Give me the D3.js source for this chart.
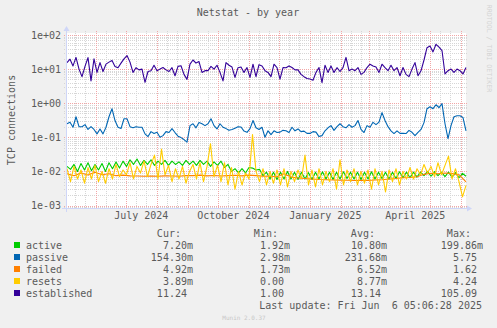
<!DOCTYPE html>
<html><head><meta charset="utf-8">
<script src="https://cdn.jsdelivr.net/npm/d3@7/dist/d3.min.js"></script>
<style>
html,body{margin:0;padding:0;background:#F0F0F0;}
svg{display:block;}
text{font-family:"DejaVu Sans Mono",monospace;}
</style>
</head><body>
<svg id="chart" width="497" height="328"></svg>
<script>
// ---------------- data ----------------
const chartTitle = "Netstat - by year";
const yAxisTitle = "TCP connections";
const watermark = "RRDTOOL / TOBI OETIKER";
const footer = "Munin 2.0.37";
const lastUpdate = "Last update: Fri Jun  6 05:06:28 2025";
const endTimeUTC = [2025, 5, 6, 5, 6, 28];
const spanDays = 400;

const seriesNames  = ["active", "passive", "failed", "resets", "established"];
const seriesColors = ["#00CC00", "#0066B3", "#FF8000", "#FFCC00", "#330099"];
const curValues = ["7.20m", "154.30m", "4.92m", "3.89m", "11.24"];
const minValues = ["1.92m", "2.98m", "1.73m", "0.00", "1.00"];
const avgValues = ["10.80m", "231.68m", "6.52m", "8.77m", "13.14"];
const maxValues = ["199.86m", "5.75", "1.62", "4.24", "105.09"];

const yTickValues = [1e-3, 1e-2, 1e-1, 1e0, 1e1, 1e2];
const yTickLabels = ["1e-03", "1e-02", "1e-01", "1e+00", "1e+01", "1e+02"];
const xTickLabels = ["July 2024", "October 2024", "January 2025", "April 2025"];
const yDomain = [8.45e-4, 114.5];

// sample spacing in days (first sample at day 1 of the 400-day window)
const activeStep = 3.5, passiveStep = 3, failedStep = 7, resetsStep = 3.5, establishedStep = 3;

const activeValues = [
  0.014,0.0115,0.016,0.010,0.017,0.011,0.018,0.0105,0.016,0.011,0.017,0.010,0.018,0.012,0.019,0.0125,0.020,
  0.014,0.022,0.016,0.023,0.015,0.021,0.016,0.022,0.015,0.020,0.016,0.021,0.015,0.020,0.016,0.019,0.015,0.021,0.016,
  0.020,0.015,0.021,0.016,0.020,0.014,0.019,0.015,0.020,0.013,0.016,0.010,0.012,0.009,0.012,0.009,0.013,
  0.0125,0.011,0.0115,0.0075,0.0095,0.006,0.0095,0.0058,0.0095,0.006,0.010,0.006,0.0095,0.0058,0.0095,0.006,
  0.0092,0.0058,0.0095,0.006,0.0098,0.006,0.0095,0.0058,0.0095,0.006,0.0098,0.0062,0.0095,0.006,0.0095,0.0058,
  0.0095,0.006,0.0098,0.006,0.0095,0.0062,0.0095,0.006,0.0095,0.0062,0.0098,0.0065,0.0095,0.0065,0.0095,0.0068,
  0.0095,0.0075,0.010,0.0072,0.0098,0.0075,0.0095,0.007,0.0095,0.0068,0.0092,0.0065,0.0088,0.0072
];
const passiveValues = [
  0.25,0.275,0.197,0.40,0.205,0.205,0.235,0.17,0.205,0.17,
  0.126,0.176,0.126,0.197,0.40,0.69,0.31,0.197,0.18,0.35,
  0.35,0.205,0.19,0.205,0.197,0.197,0.126,0.105,0.147,0.129,
  0.14,0.10,0.112,0.147,0.138,0.18,0.138,0.108,0.098,0.086,
  0.072,0.22,0.25,0.19,0.27,0.25,0.22,0.25,0.35,0.22,
  0.176,0.25,0.197,0.18,0.16,0.17,0.185,0.205,0.20,0.152,
  0.14,0.18,0.31,0.19,0.17,0.197,0.10,0.155,0.12,0.155,
  0.138,0.142,0.16,0.155,0.138,0.197,0.155,0.176,0.147,0.152,
  0.13,0.13,0.147,0.142,0.105,0.112,0.155,0.19,0.22,0.16,
  0.205,0.25,0.205,0.19,0.235,0.197,0.22,0.31,0.17,0.138,
  0.22,0.197,0.275,0.235,0.28,0.53,0.31,0.205,0.155,0.129,
  0.155,0.13,0.13,0.129,0.16,0.14,0.112,0.14,0.17,0.27,
  0.69,0.79,0.69,0.90,0.74,0.97,0.25,0.092,0.22,0.40,
  0.43,0.43,0.38,0.155
];
const failedValues = [
  0.0085,0.0075,0.009,0.0078,0.0095,0.008,0.0085,0.0075,0.0078,
  0.0074,0.0073,0.0072,0.0073,0.0072,0.0074,0.0073,0.0072,0.0075,
  0.0075,0.0078,0.0074,0.0076,0.0073,0.0075,0.0077,0.0074,0.0078,
  0.0075,0.0072,0.0072,0.0070,0.0085,0.0068,0.0064,0.0062,0.006,0.0058,0.0057,0.0056,
  0.0055,0.0055,0.0054,0.0055,0.0054,0.0056,0.0057,0.006,0.0062,0.0065,0.0066,0.007,
  0.0082,0.0088,0.0085,0.009,0.0086,0.008,0.0049
];
const resetsValues = [
  0.012,0.005,0.014,0.006,0.011,0.0045,0.013,0.006,0.015,0.005,0.010,0.0045,0.012,0.006,0.016,0.007,0.011,
  0.008,0.018,0.006,0.014,0.009,0.020,0.007,0.016,0.030,0.006,0.045,0.008,0.015,0.005,0.012,0.006,0.014,0.0045,0.010,
  0.016,0.006,0.018,0.005,0.014,0.065,0.007,0.015,0.005,0.018,0.004,0.013,0.003,0.010,0.004,0.009,0.006,
  0.12,0.010,0.005,0.012,0.004,0.010,0.0045,0.011,0.004,0.012,0.0035,0.010,0.005,0.011,0.006,0.030,
  0.004,0.011,0.0035,0.012,0.004,0.010,0.005,0.012,0.003,0.022,0.004,0.011,0.005,0.012,0.004,0.010,
  0.0045,0.011,0.003,0.012,0.004,0.010,0.0025,0.011,0.005,0.012,0.004,0.010,0.006,0.013,0.006,0.012,
  0.008,0.016,0.009,0.014,0.007,0.018,0.008,0.015,0.028,0.006,0.012,0.005,0.0018,0.0039
];
const establishedValues = [
  15.5,19.5,12.4,22,10,6,12,21.7,4.5,20,
  8.0,15.5,8.5,14,16,18,12,11,15,20,
  25,16,8.0,11,9.5,10,4.1,8.5,9,13,
  8.9,10,11.1,9.5,8.5,11,6.4,12,12.5,7,
  5,14,18.5,15,16.6,8.0,9,9,12,10,
  13,8.0,4.5,15.5,13,11.5,5.7,11,11.5,8,
  11.1,5.7,13.9,6,13.5,12.4,9,8,6,13.9,
  11.1,5.1,11.1,11,12.4,11.1,9.5,9.5,7,6,
  5.3,5.1,4.7,8,11.1,4,13,8.0,12.4,8,
  11,8.5,11.1,22,9,10,9,11.1,7,8,
  11.1,13.9,12.4,11.5,8.0,13.9,11.1,9,13,9,
  11.1,6.4,11.1,7,6,10,15.5,6.4,8.9,18.5,
  42.5,47.7,32,53.4,44,35,7.2,9,10,8.0,
  10,9,7.2,11.1
];

// ---------------- drawing ----------------
const W = 497, H = 328;
const plot = {left: 66, right: 466, top: 33, bottom: 208};
const textColor = "#5a5a5a";
const DAY = 864e5;
const endTime = new Date(Date.UTC(...endTimeUTC));
const startTime = new Date(endTime.getTime() - spanDays * DAY);

const svg = d3.select("#chart");
const x = d3.scaleUtc().domain([startTime, endTime]).range([plot.left, plot.right]);
const y = d3.scaleLog().domain(yDomain).range([plot.bottom, plot.top]);
const snap = v => Math.round(v) + 0.5;

svg.append("rect").attr("width", W).attr("height", H).attr("fill", "#F0F0F0");
svg.append("rect").attr("x", plot.left).attr("y", plot.top)
   .attr("width", plot.right - plot.left).attr("height", plot.bottom - plot.top).attr("fill", "#FFFFFF");

const grid = svg.append("g");
const minorColor = "#d6d6d6", majorColor = "#f2a6a6";
// minor horizontal grid (2..9 per decade)
const minorY = [];
for (let e = -4; e <= 2; e++) for (let m = 2; m <= 9; m++) {
  const v = m * Math.pow(10, e);
  if (v > yDomain[0] && v < yDomain[1]) minorY.push(v);
}
grid.selectAll(".hmin").data(minorY).join("line")
  .attr("x1", plot.left - 2).attr("x2", plot.right + 2)
  .attr("y1", d => snap(y(d))).attr("y2", d => snap(y(d)))
  .attr("stroke", minorColor).attr("stroke-dasharray", "1,1");
// minor vertical grid
const minorX = [];
d3.utcMonth.range(d3.utcMonth.floor(startTime), endTime).forEach(m => {
  [11, 21].forEach(dd => {
    const t = new Date(Date.UTC(m.getUTCFullYear(), m.getUTCMonth(), dd));
    if (t > startTime && t < endTime) minorX.push(t);
  });
});
grid.selectAll(".vmin").data(minorX).join("line")
  .attr("x1", d => snap(x(d))).attr("x2", d => snap(x(d)))
  .attr("y1", plot.top - 2).attr("y2", plot.bottom)
  .attr("stroke", minorColor).attr("stroke-dasharray", "1,1");
// major grid
const majorX = d3.utcMonth.range(d3.utcMonth.ceil(startTime), endTime);
grid.selectAll(".vmaj").data(majorX).join("line")
  .attr("x1", d => snap(x(d))).attr("x2", d => snap(x(d)))
  .attr("y1", plot.top - 2).attr("y2", plot.bottom)
  .attr("stroke", majorColor).attr("stroke-dasharray", "1,1");
grid.selectAll(".hmaj").data(yTickValues).join("line")
  .attr("x1", plot.left - 2).attr("x2", plot.right + 2)
  .attr("y1", d => snap(y(d))).attr("y2", d => snap(y(d)))
  .attr("stroke", majorColor).attr("stroke-dasharray", "1,1");

// series
function toPoints(values, step) {
  return values.map((v, i) => ({t: new Date(startTime.getTime() + (1 + i * step) * DAY), v}));
}
const seriesData = [
  toPoints(activeValues, activeStep),
  toPoints(passiveValues, passiveStep),
  toPoints(failedValues, failedStep),
  toPoints(resetsValues, resetsStep),
  toPoints(establishedValues, establishedStep)
];
const line = d3.line().x(d => x(d.t)).y(d => y(d.v));
seriesData.forEach((pts, i) => {
  svg.append("path").datum(pts).attr("d", line)
    .attr("fill", "none").attr("stroke", seriesColors[i])
    .attr("stroke-width", 1.1).attr("stroke-linejoin", "round");
});

// axes lines + arrows
const axisColor = "#CFD6F8";
svg.append("line").attr("x1", plot.left - 4).attr("x2", plot.right + 2)
  .attr("y1", plot.bottom + 0.5).attr("y2", plot.bottom + 0.5).attr("stroke", axisColor);
svg.append("path").attr("d", `M${plot.right + 1},${plot.bottom - 2.5}L${plot.right + 6},${plot.bottom + 0.5}L${plot.right + 1},${plot.bottom + 3.5}Z`)
  .attr("fill", axisColor);
svg.append("line").attr("x1", plot.left + 0.5).attr("x2", plot.left + 0.5)
  .attr("y1", plot.bottom + 4).attr("y2", plot.top - 2).attr("stroke", axisColor);
svg.append("path").attr("d", `M${plot.left - 2.5},${plot.top - 2}L${plot.left + 0.5},${plot.top - 7}L${plot.left + 3.5},${plot.top - 2}Z`)
  .attr("fill", axisColor);

// tick labels via d3 axes
const yAxis = d3.axisLeft(y).tickValues(yTickValues).tickFormat((d, i) => yTickLabels[i]).tickSize(0).tickPadding(5);
const gy = svg.append("g").attr("transform", `translate(${plot.left},0)`).call(yAxis);
const labelDates = d3.utcMonth.every(3).range(startTime, endTime).map(d => new Date(d.getTime() + 15 * DAY));
const xAxis = d3.axisBottom(x).tickValues(labelDates).tickFormat((d, i) => xTickLabels[i]).tickSize(0).tickPadding(4);
const gx = svg.append("g").attr("transform", `translate(0,${plot.bottom})`).call(xAxis);
[gx, gy].forEach(g => {
  g.select(".domain").remove();
  g.attr("font-family", "DejaVu Sans Mono").attr("font-size", 10).attr("color", textColor);
});

// title & axis title
svg.append("text").attr("x", 248).attr("y", 16).attr("text-anchor", "middle")
  .attr("font-size", 10).attr("fill", textColor).text(chartTitle);
svg.append("text").attr("transform", "translate(15,120) rotate(-90)").attr("text-anchor", "middle")
  .attr("font-size", 10).attr("fill", textColor).text(yAxisTitle);
svg.append("text").attr("transform", "translate(486.5,48.5) rotate(90)").attr("text-anchor", "middle")
  .attr("font-size", 6.6).attr("fill", "#d4d4d4").text(watermark);

// legend
const charW = 6.02;
const colEnds = [193, 290, 387, 483];
const colHeads = ["Cur:", "Min:", "Avg:", "Max:"];
const cols = [curValues, minValues, avgValues, maxValues];
const headY = 237, rowY0 = 249, rowStep = 12;
const leg = svg.append("g").attr("font-size", 10).attr("fill", textColor);
colHeads.forEach((h, j) => {
  leg.append("text").attr("x", colEnds[j] - 2 * charW).attr("y", headY).attr("text-anchor", "end").text(h);
});
seriesNames.forEach((name, i) => {
  const by = rowY0 + i * rowStep;
  leg.append("rect").attr("x", 14).attr("y", by - 7).attr("width", 6).attr("height", 6).attr("fill", seriesColors[i]);
  leg.append("text").attr("x", 26).attr("y", by).text(name);
  cols.forEach((col, j) => {
    const s = col[i];
    const hasUnit = /[a-zA-Z]$/.test(s);
    leg.append("text").attr("x", colEnds[j] - (hasUnit ? 0 : charW)).attr("y", by)
      .attr("text-anchor", "end").text(s);
  });
});
leg.append("text").attr("x", 482).attr("y", rowY0 + 5 * rowStep).attr("text-anchor", "end")
  .style("white-space", "pre").text(lastUpdate);
svg.append("text").attr("x", 244).attr("y", 320).attr("text-anchor", "middle")
  .attr("font-size", 6).attr("fill", "#c8c8c8").text(footer);
</script>
</body></html>
